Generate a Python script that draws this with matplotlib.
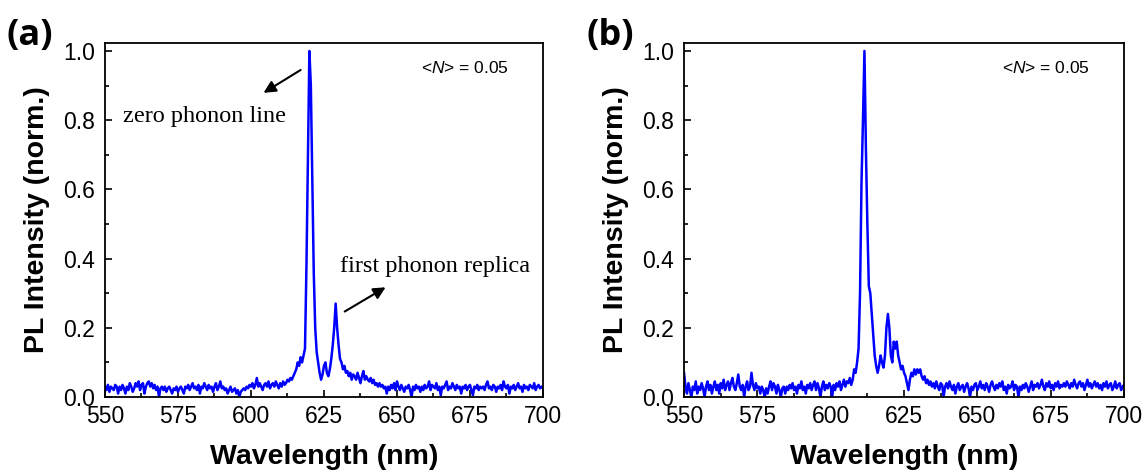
import numpy as np
import matplotlib
matplotlib.use("Agg")
import matplotlib.pyplot as plt
from matplotlib.ticker import MultipleLocator

plt.rcParams['font.family'] = ['Liberation Sans', 'DejaVu Sans']
plt.rcParams['mathtext.fontset'] = 'custom'
plt.rcParams['mathtext.it'] = 'Liberation Sans:italic'
plt.rcParams['mathtext.rm'] = 'Liberation Sans'

# wavelength grid (nm), 0.5 nm steps from 550 to 700
wavelength = np.arange(550, 700.25, 0.5)

# panel (a) normalised PL intensity
intensity_a = [
    0.03, 0.02, 0.035, 0.015, 0.03, 0.025, 0.02, 0.035, 0.03, 0.01,
    0.03, 0.02, 0.035, 0.025, 0.01, 0.03, 0.02, 0.04, 0.03, 0.015,
    0.025, 0.04, 0.03, 0.045, 0.02, 0.035, 0.04, 0.01, 0.03, 0.04,
    0.045, 0.03, 0.04, 0.025, 0.035, 0.02, 0.03, 0.0, 0.025, 0.03,
    0.02, 0.03, 0.015, 0.025, 0.03, 0.02, 0.01, 0.025, 0.02, 0.03,
    0.015, 0.025, 0.03, 0.02, 0.01, 0.03, 0.025, 0.035, 0.02, 0.03,
    0.04, 0.025, 0.03, 0.02, 0.035, 0.01, 0.03, 0.025, 0.04, 0.03,
    0.02, 0.035, 0.025, 0.03, 0.015, 0.03, 0.04, 0.02, 0.03, 0.045,
    0.025, 0.03, 0.02, 0.025, 0.01, 0.02, 0.03, 0.015, 0.02, 0.025,
    0.01, 0.02, 0.0, 0.015, 0.02, 0.025, 0.02, 0.03, 0.025, 0.035,
    0.03, 0.04, 0.025, 0.035, 0.055, 0.03, 0.04, 0.03, 0.02, 0.035,
    0.04, 0.03, 0.045, 0.025, 0.035, 0.04, 0.03, 0.045, 0.035, 0.025,
    0.04, 0.03, 0.045, 0.035, 0.04, 0.05, 0.045, 0.055, 0.05, 0.06,
    0.07, 0.08, 0.1, 0.09, 0.115, 0.1, 0.12, 0.14, 0.38, 0.7,
    1.0, 0.9, 0.62, 0.36, 0.2, 0.13, 0.1, 0.07, 0.05, 0.065,
    0.09, 0.1, 0.07, 0.06, 0.08, 0.11, 0.15, 0.2, 0.27, 0.2,
    0.15, 0.11, 0.1, 0.08, 0.09, 0.07, 0.075, 0.06, 0.07, 0.05,
    0.065, 0.06, 0.05, 0.07, 0.055, 0.04, 0.06, 0.075, 0.05, 0.06,
    0.05, 0.045, 0.055, 0.04, 0.05, 0.035, 0.04, 0.03, 0.04, 0.03,
    0.035, 0.025, 0.03, 0.01, 0.03, 0.02, 0.035, 0.025, 0.04, 0.02,
    0.045, 0.03, 0.02, 0.035, 0.025, 0.015, 0.03, 0.025, 0.035, 0.02,
    0.0, 0.03, 0.02, 0.035, 0.025, 0.03, 0.015, 0.03, 0.02, 0.035,
    0.025, 0.03, 0.045, 0.02, 0.035, 0.03, 0.025, 0.04, 0.02, 0.03,
    0.005, 0.03, 0.025, 0.035, 0.045, 0.02, 0.03, 0.025, 0.04, 0.03,
    0.02, 0.035, 0.025, 0.03, 0.01, 0.03, 0.025, 0.035, 0.02, 0.03,
    0.035, 0.02, 0.005, 0.03, 0.025, 0.035, 0.02, 0.03, 0.025, 0.03,
    0.02, 0.035, 0.045, 0.025, 0.03, 0.02, 0.035, 0.03, 0.015, 0.03,
    0.025, 0.035, 0.02, 0.045, 0.03, 0.025, 0.035, 0.01, 0.03, 0.025,
    0.035, 0.02, 0.03, 0.04, 0.025, 0.03, 0.015, 0.035, 0.025, 0.03,
    0.02, 0.035, 0.03, 0.025, 0.04, 0.02, 0.03, 0.035, 0.025, 0.03,
    0.025,
]

# panel (b) normalised PL intensity
intensity_b = [
    0.07, 0.03, 0.01, 0.04, 0.02, 0.0, 0.03, 0.02, 0.045, 0.01,
    0.03, 0.02, 0.04, 0.025, 0.0, 0.03, 0.045, 0.02, 0.035, 0.01,
    0.03, 0.045, 0.02, 0.035, 0.01, 0.04, 0.025, 0.05, 0.02, 0.035,
    0.045, 0.02, 0.04, 0.055, 0.03, 0.02, 0.04, 0.065, 0.03, 0.02,
    0.035, 0.0, 0.03, 0.045, 0.02, 0.03, 0.07, 0.035, 0.02, 0.04,
    0.025, 0.03, 0.01, 0.03, 0.02, 0.0, 0.025, 0.01, 0.03, 0.045,
    0.02, 0.04, 0.03, 0.01, 0.035, 0.02, 0.0, 0.025, 0.03, 0.01,
    0.03, 0.02, 0.035, 0.025, 0.04, 0.02, 0.03, 0.01, 0.035, 0.025,
    0.045, 0.02, 0.03, 0.01, 0.035, 0.025, 0.04, 0.02, 0.035, 0.045,
    0.02, 0.04, 0.025, 0.0, 0.03, 0.045, 0.02, 0.035, 0.025, 0.04,
    0.03, 0.0, 0.035, 0.02, 0.04, 0.03, 0.045, 0.02, 0.035, 0.05,
    0.03, 0.045, 0.04, 0.055, 0.035, 0.05, 0.08, 0.07, 0.1, 0.14,
    0.3, 0.62, 0.8, 1.0, 0.72, 0.5, 0.32, 0.3, 0.24, 0.18,
    0.12, 0.09, 0.07, 0.09, 0.12, 0.1, 0.085, 0.12, 0.2, 0.24,
    0.2, 0.12, 0.1, 0.16, 0.14, 0.16, 0.12, 0.1, 0.08, 0.09,
    0.07, 0.06, 0.04, 0.02, 0.05, 0.07, 0.06, 0.08, 0.065, 0.08,
    0.07, 0.08, 0.06, 0.05, 0.06, 0.04, 0.05, 0.035, 0.045, 0.03,
    0.04, 0.025, 0.045, 0.03, 0.02, 0.04, 0.035, 0.0, 0.03, 0.04,
    0.025, 0.045, 0.03, 0.02, 0.035, 0.01, 0.03, 0.04, 0.02, 0.03,
    0.035, 0.015, 0.03, 0.04, 0.025, 0.0, 0.03, 0.02, 0.035, 0.04,
    0.02, 0.03, 0.045, 0.025, 0.035, 0.02, 0.04, 0.03, 0.015, 0.035,
    0.045, 0.03, 0.02, 0.035, 0.025, 0.04, 0.03, 0.045, 0.02, 0.03,
    0.01, 0.035, 0.025, 0.03, 0.045, 0.02, 0.035, 0.03, 0.0, 0.03,
    0.02, 0.035, 0.025, 0.04, 0.03, 0.015, 0.03, 0.045, 0.02, 0.035,
    0.03, 0.04, 0.025, 0.035, 0.05, 0.03, 0.02, 0.04, 0.03, 0.045,
    0.025, 0.035, 0.02, 0.04, 0.03, 0.045, 0.025, 0.035, 0.03, 0.04,
    0.03, 0.045, 0.035, 0.025, 0.04, 0.03, 0.05, 0.035, 0.025, 0.04,
    0.045, 0.03, 0.04, 0.02, 0.035, 0.05, 0.03, 0.04, 0.025, 0.035,
    0.045, 0.03, 0.04, 0.025, 0.035, 0.02, 0.04, 0.03, 0.045, 0.025,
    0.035, 0.04, 0.02, 0.03, 0.045, 0.025, 0.035, 0.04, 0.02, 0.03,
    0.035,
]

panel_labels = ['(a)', '(b)']
occupancy_text = r'<$\mathit{N}$> = 0.05'

fig = plt.figure(figsize=(11.45, 4.72), dpi=100)
ax_a = fig.add_axes([0.0917, 0.1589, 0.3825, 0.75])
ax_b = fig.add_axes([0.5974, 0.1589, 0.3843, 0.75])

for ax, y in [(ax_a, intensity_a), (ax_b, intensity_b)]:
    ax.plot(wavelength, y, color='#0000ff', lw=1.8)
    ax.set_xlim(550, 700)
    ax.set_ylim(0, 1.023)
    ax.xaxis.set_major_locator(MultipleLocator(25))
    ax.xaxis.set_minor_locator(MultipleLocator(12.5))
    ax.yaxis.set_major_locator(MultipleLocator(0.2))
    ax.yaxis.set_minor_locator(MultipleLocator(0.1))
    ax.yaxis.set_major_formatter(matplotlib.ticker.FormatStrFormatter('%.1f'))
    ax.tick_params(which='both', direction='in', top=False, right=False, width=1.2)
    ax.tick_params(which='major', length=5, labelsize=16.5)
    ax.tick_params(axis='x', which='major', pad=6)
    ax.tick_params(axis='y', which='major', pad=7)
    ax.tick_params(which='minor', length=3)
    for s in ax.spines.values():
        s.set_linewidth(1.3)
    ax.set_xlabel('Wavelength (nm)', fontsize=20.5, fontweight='bold', labelpad=11)
    ax.set_ylabel('PL Intensity (norm.)', fontsize=20.5, fontweight='bold', labelpad=10)
    ax.text(0.922, 0.929, occupancy_text, transform=ax.transAxes, ha='right', va='center', fontsize=12.5)

fig.text(0.026, 0.923, panel_labels[0], fontsize=26, fontweight='bold', family='Open Sans', ha='center', va='center')
fig.text(0.533, 0.923, panel_labels[1], fontsize=26, fontweight='bold', family='Open Sans', ha='center', va='center')

ax_a.text(584.2, 0.81, 'zero phonon line', family='Liberation Serif', fontsize=17.5, ha='center', va='center')
ax_a.text(662.9, 0.378, 'first phonon replica', family='Liberation Serif', fontsize=17.5, ha='center', va='center')
ax_a.annotate('', xy=(604.3, 0.879), xytext=(617.0, 0.945),
              arrowprops=dict(arrowstyle='-|>', color='black', lw=1.5, mutation_scale=18, shrinkA=0, shrinkB=0))
ax_a.annotate('', xy=(646.1, 0.317), xytext=(632.1, 0.247),
              arrowprops=dict(arrowstyle='-|>', color='black', lw=1.5, mutation_scale=18, shrinkA=0, shrinkB=0))

fig.savefig('out.png', dpi=100)
